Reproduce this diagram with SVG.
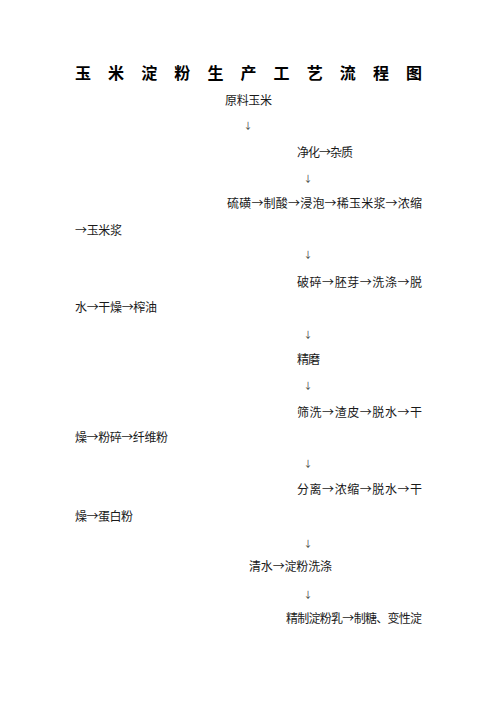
<svg xmlns="http://www.w3.org/2000/svg" width="496" height="702" viewBox="0 0 496 702">
<style>
text{font-family:"Noto Sans CJK SC","Noto Sans CJK JP",sans-serif;fill:#1a1a1a;}
.title{font-size:16px;font-weight:bold;fill:#000;}
.body{font-size:12px;}
.arr{font-size:9px;text-anchor:middle;fill:#333;}
</style>
<rect width="496" height="702" fill="#fff"/>
<text class="title" x="75" y="79" textLength="347" lengthAdjust="spacing">玉 米 淀 粉 生 产 工 艺 流 程 图</text>
<g id="n1"><text class="body" x="225" y="104.5" textLength="47" lengthAdjust="spacing">原料玉米</text></g>
<g id="n2"><text class="body" x="297" y="156.5" textLength="56" lengthAdjust="spacing">净化→杂质</text></g>
<g id="n3"><text class="body" x="227" y="207.5" textLength="195" lengthAdjust="spacing">硫磺→制酸→浸泡→稀玉米浆→浓缩</text>
<text class="body" x="75" y="234.5" textLength="47" lengthAdjust="spacing">→玉米浆</text></g>
<g id="n4"><text class="body" x="297" y="286.5" textLength="125" lengthAdjust="spacing">破碎→胚芽→洗涤→脱</text>
<text class="body" x="75" y="311.5" textLength="82" lengthAdjust="spacing">水→干燥→榨油</text></g>
<g id="n5"><text class="body" x="297" y="363.5" textLength="23" lengthAdjust="spacing">精磨</text></g>
<g id="n6"><text class="body" x="297" y="416.5" textLength="125" lengthAdjust="spacing">筛洗→渣皮→脱水→干</text>
<text class="body" x="75" y="441.5" textLength="93" lengthAdjust="spacing">燥→粉碎→纤维粉</text></g>
<g id="n7"><text class="body" x="297" y="493.5" textLength="125" lengthAdjust="spacing">分离→浓缩→脱水→干</text>
<text class="body" x="75" y="520.5" textLength="58" lengthAdjust="spacing">燥→蛋白粉</text></g>
<g id="n8"><text class="body" x="249" y="570.5" textLength="83" lengthAdjust="spacing">清水→淀粉洗涤</text></g>
<g id="n9"><text class="body" x="286" y="622.5" textLength="136" lengthAdjust="spacing">精制淀粉乳→制糖、变性淀</text></g>
<g id="connectors">
<text class="arr" x="248" y="128.5">↓</text>
<text class="arr" x="308" y="181.5">↓</text>
<text class="arr" x="308" y="257.5">↓</text>
<text class="arr" x="308" y="337.5">↓</text>
<text class="arr" x="308" y="388.5">↓</text>
<text class="arr" x="308" y="466.5">↓</text>
<text class="arr" x="308" y="546.5">↓</text>
<text class="arr" x="308" y="597.5">↓</text>
</g>
</svg>
